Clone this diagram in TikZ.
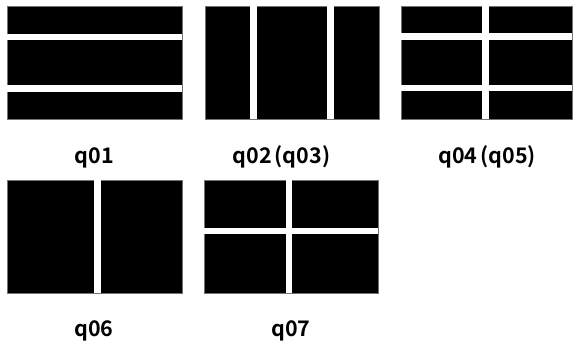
\documentclass[tikz,border=0pt]{standalone}
\usepackage{fontspec}
\newfontfamily\jpfont{Noto Sans CJK JP Bold}
\begin{document}
\begin{tikzpicture}[x=1pt,y=-1pt,
  panel/.style={fill=black,draw=black!55,line width=0.6pt},
  gap/.style={fill=white,draw=none},
  lbl/.style={font=\jpfont\fontsize{21.5}{21.5}\selectfont,inner sep=0pt,anchor=base}]
\useasboundingbox (0,0) rectangle (574,347);
% q01
\draw[panel] (7,6) rectangle (182,119);
\fill[gap] (7,34) rectangle (182,40.5);
\fill[gap] (7,85.5) rectangle (182,92);
% q02
\draw[panel] (205,6) rectangle (379,119);
\fill[gap] (249.5,5.7) rectangle (256.5,119.3);
\fill[gap] (327.3,5.7) rectangle (334,119.3);
% q04
\draw[panel] (401,6) rectangle (572,119);
\fill[gap] (482.3,5.7) rectangle (489,119.3);
\fill[gap] (400.7,33.5) rectangle (572.3,40);
\fill[gap] (400.7,85.3) rectangle (572.3,91);
% q06
\draw[panel] (7,180) rectangle (182,293);
\fill[gap] (94,179.7) rectangle (100.7,293.3);
% q07
\draw[panel] (204,180) rectangle (378,293);
\fill[gap] (286,179.7) rectangle (292,293.3);
\fill[gap] (203.7,228.3) rectangle (378.3,234.3);
% labels
\node[lbl] (l1) at (94.5,163.5) {q01};
\node[lbl] (l2) at (281.5,163.5) {q02\kern3pt(q03)};
\node[lbl] (l3) at (487,163.5) {q04\kern3pt(q05)};
\node[lbl] (l6) at (94,337) {q06};
\node[lbl] (l7) at (291,337) {q07};
\end{tikzpicture}
\end{document}
